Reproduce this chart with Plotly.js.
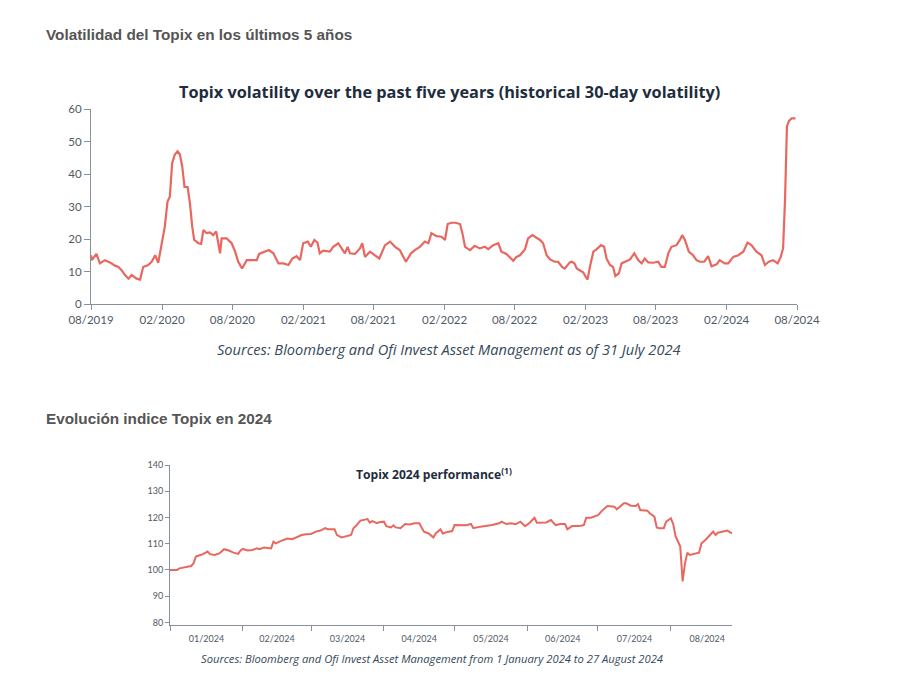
<!DOCTYPE html>
<html>
<head>
<meta charset="utf-8">
<script src="https://cdn.plot.ly/plotly-3.0.1.min.js"></script>
<style>
  html, body { margin: 0; padding: 0; background: #ffffff; }
  #chart { width: 900px; height: 678px; }
</style>
</head>
<body>
<div id="chart"></div>
<script>
// ---- Chart 1: Topix historical 30-day volatility ----
const volDates = [
  "2019-08-01","2019-08-03","2019-08-15","2019-08-24","2019-09-06","2019-09-19","2019-10-02","2019-10-11",
  "2019-10-19","2019-10-28","2019-11-06","2019-11-14","2019-11-27","2019-12-06","2019-12-14","2019-12-27",
  "2020-01-05","2020-01-14","2020-01-22","2020-02-02","2020-02-08","2020-02-15","2020-02-21","2020-02-27",
  "2020-03-05","2020-03-12","2020-03-18","2020-03-24","2020-03-30","2020-04-07","2020-04-13","2020-04-19",
  "2020-04-24","2020-05-05","2020-05-12","2020-05-18","2020-05-26","2020-06-04","2020-06-12","2020-06-20",
  "2020-06-30","2020-07-04","2020-07-17","2020-07-30","2020-08-08","2020-08-16","2020-08-26","2020-09-07",
  "2020-09-20","2020-10-03","2020-10-09","2020-10-24","2020-11-03","2020-11-15","2020-11-28","2020-12-11",
  "2020-12-24","2021-01-03","2021-01-14","2021-01-23","2021-01-31","2021-02-12","2021-02-20","2021-03-01",
  "2021-03-09","2021-03-15","2021-03-24","2021-04-10","2021-04-19","2021-05-02","2021-05-10","2021-05-19",
  "2021-05-26","2021-06-01","2021-06-14","2021-06-27","2021-07-03","2021-07-10","2021-07-23","2021-08-05",
  "2021-08-16","2021-08-31","2021-09-13","2021-09-26","2021-10-08","2021-10-24","2021-11-06","2021-11-16",
  "2021-11-29","2021-12-12","2021-12-21","2021-12-29","2022-01-11","2022-01-24","2022-02-02","2022-02-09",
  "2022-02-19","2022-03-01","2022-03-13","2022-03-19","2022-03-26","2022-04-08","2022-04-20","2022-05-03",
  "2022-05-16","2022-05-25","2022-06-07","2022-06-20","2022-06-28","2022-07-11","2022-07-20","2022-07-29",
  "2022-08-06","2022-08-15","2022-08-28","2022-09-05","2022-09-16","2022-09-24","2022-10-06","2022-10-14",
  "2022-10-23","2022-11-01","2022-11-13","2022-11-22","2022-12-02","2022-12-09","2022-12-16","2022-12-22",
  "2022-12-27","2023-01-03","2023-01-09","2023-01-17","2023-01-26","2023-02-01","2023-02-06","2023-02-12",
  "2023-02-21","2023-03-01","2023-03-13","2023-03-21","2023-03-27","2023-04-05","2023-04-13","2023-04-19",
  "2023-04-28","2023-05-05","2023-05-14","2023-05-27","2023-06-07","2023-06-17","2023-06-26","2023-07-04",
  "2023-07-13","2023-07-26","2023-08-08","2023-08-16","2023-08-25","2023-09-03","2023-09-11","2023-09-24",
  "2023-10-03","2023-10-09","2023-10-16","2023-10-26","2023-11-06","2023-11-15","2023-11-24","2023-12-05",
  "2023-12-15","2023-12-24","2024-01-06","2024-01-14","2024-01-27","2024-02-05","2024-02-18","2024-03-02",
  "2024-03-15","2024-03-26","2024-04-05","2024-04-18","2024-05-01","2024-05-10","2024-05-20","2024-05-31",
  "2024-06-12","2024-06-20","2024-06-26","2024-07-01","2024-07-06","2024-07-11","2024-07-18","2024-07-28"
];
const volValues = [
  15, 13.5, 15.4, 12.5, 13.5, 12.8, 11.8, 11.4,
  10.4, 8.9, 7.8, 8.9, 7.8, 7.5, 11.4, 12,
  13, 15, 12.7, 20.2, 23.8, 31.5, 33, 43.4,
  46, 47, 46, 42.4, 36, 36, 31, 23.8,
  19.7, 18.7, 18.5, 22.8, 21.8, 22, 21.2, 22.3,
  15.6, 20.2, 20.2, 18.7, 16.1, 13, 10.9, 13.5,
  13.5, 13.5, 15.4, 16.1, 16.6, 15.6, 12.5, 12.5,
  12, 14, 14.7, 13.5, 18.7, 19.2, 17.6, 19.7,
  18.9, 15.6, 16.4, 16.1, 17.6, 18.7, 17.1, 15.6,
  17.6, 15.6, 15.4, 17.1, 18.7, 14.5, 16.1, 15,
  14, 18.1, 19.2, 17.6, 16.6, 13, 15.6, 16.6,
  17.6, 19.2, 18.7, 21.8, 20.9, 20.7, 19.7, 24.6,
  25, 25, 24.6, 21.8, 17.6, 16.6, 17.9, 17.1,
  17.6, 16.9, 18.1, 18.7, 16.1, 15.4, 14.5, 13.3,
  14.5, 15, 16.8, 20.2, 21.2, 20.7, 19.7, 18.7,
  15, 13.7, 13, 13, 11.4, 10.9, 12, 12.8,
  13, 12.5, 10.9, 10.4, 9.7, 8.4, 7.5, 11.4,
  16.1, 16.8, 18.1, 17.6, 14, 12, 11.4, 8.6,
  9.4, 12.5, 13, 13.7, 15.6, 13.5, 12.5, 14,
  12.8, 12.7, 13, 11.4, 11.4, 15.6, 17.6, 18.1,
  19.7, 21.2, 19.7, 16.1, 15, 13.5, 13, 13,
  14.7, 11.6, 12.2, 13.5, 12.5, 12.5, 14.5, 15,
  16.1, 18.9, 18.1, 16.1, 15, 12, 13, 13.5,
  12.5, 14.5, 17.1, 32, 54.7, 56.3, 57.1, 57.1
];

// ---- Chart 2: Topix 2024 performance (base 100) ----
const perfDates = [
  "2024-01-01","2024-01-04","2024-01-05","2024-01-07","2024-01-10","2024-01-11","2024-01-12","2024-01-14",
  "2024-01-15","2024-01-17","2024-01-18","2024-01-20","2024-01-22","2024-01-24","2024-01-26","2024-01-28",
  "2024-01-30","2024-01-31","2024-02-01","2024-02-03","2024-02-05","2024-02-07","2024-02-08","2024-02-10",
  "2024-02-13","2024-02-14","2024-02-15","2024-02-17","2024-02-20","2024-02-22","2024-02-24","2024-02-26",
  "2024-02-28","2024-03-01","2024-03-03","2024-03-05","2024-03-07","2024-03-08","2024-03-11","2024-03-12",
  "2024-03-14","2024-03-16","2024-03-18","2024-03-19","2024-03-20","2024-03-22","2024-03-23","2024-03-25",
  "2024-03-26","2024-03-27","2024-03-29","2024-03-30","2024-04-01","2024-04-02","2024-04-04","2024-04-05",
  "2024-04-06","2024-04-08","2024-04-10","2024-04-12","2024-04-14","2024-04-16","2024-04-18","2024-04-20",
  "2024-04-22","2024-04-23","2024-04-25","2024-04-26","2024-04-28","2024-04-30","2024-05-01","2024-05-03",
  "2024-05-06","2024-05-08","2024-05-09","2024-05-12","2024-05-15","2024-05-17","2024-05-20","2024-05-21",
  "2024-05-23","2024-05-25","2024-05-27","2024-05-29","2024-05-31","2024-06-02","2024-06-04","2024-06-05",
  "2024-06-09","2024-06-11","2024-06-13","2024-06-15","2024-06-17","2024-06-18","2024-06-20","2024-06-23",
  "2024-06-25","2024-06-26","2024-06-28","2024-07-01","2024-07-03","2024-07-05","2024-07-08","2024-07-09",
  "2024-07-12","2024-07-13","2024-07-15","2024-07-17","2024-07-18","2024-07-19","2024-07-22","2024-07-23",
  "2024-07-25","2024-07-26","2024-07-27","2024-07-29","2024-07-30","2024-08-01","2024-08-02","2024-08-03",
  "2024-08-05","2024-08-06","2024-08-07","2024-08-08","2024-08-09","2024-08-11","2024-08-13","2024-08-14",
  "2024-08-16","2024-08-19","2024-08-20","2024-08-21","2024-08-23","2024-08-25","2024-08-27"
];
const perfValues = [
  100, 100, 100.6, 101, 101.5, 102.5, 105.1, 105.7,
  106, 107, 106, 105.7, 106.3, 107.9, 107.4, 106.6,
  106.1, 107.4, 108, 107.4, 107.6, 108.2, 107.9, 108.5,
  108.2, 110.8, 110.1, 111, 112, 111.7, 112.4, 113.3,
  113.6, 113.7, 114.6, 115, 115.9, 115.5, 115.5, 113.3,
  112.4, 112.9, 113.3, 115.9, 116.7, 118.8, 119, 119.4,
  118, 118.6, 117.8, 118.2, 118.4, 116.7, 116.2, 117,
  116.2, 115.9, 117.5, 117.3, 117.8, 117.8, 114.6, 113.9,
  112.4, 113.9, 115.5, 113.9, 114.5, 114.8, 117.1, 117.1,
  117, 117.5, 115.9, 116.5, 116.7, 117.1, 117.8, 118.4,
  117.5, 117.8, 117.4, 118.4, 116.7, 118, 119.9, 118,
  118.1, 119, 117.1, 117.5, 117.5, 115.5, 116.7, 116.7,
  117.1, 119.9, 119.9, 120.9, 122.8, 124.4, 124.1, 123.1,
  125.4, 125.4, 124.5, 124.4, 125.1, 122.8, 122.6, 121.6,
  120.3, 116.2, 115.9, 115.9, 118.4, 119.7, 117.5, 112.9,
  108.9, 95.6, 102.5, 106.6, 105.7, 106.1, 106.6, 110.1,
  111.7, 114.6, 113.3, 114.2, 114.5, 115, 113.9
];

const pageHeading1 = "Volatilidad del Topix en los últimos 5 años";
const pageHeading2 = "Evolución indice Topix en 2024";
const chartTitle1 = "Topix volatility over the past five years (historical 30-day volatility)";
const chartTitle2 = "Topix 2024 performance<sup>(1)</sup>";
const source1 = "Sources: Bloomberg and Ofi Invest Asset Management as of 31 July 2024";
const source2 = "Sources: Bloomberg and Ofi Invest Asset Management from 1 January 2024 to 27 August 2024";

const W = 900, H = 678;
const px = x => x / W;
const py = y => 1 - y / H;

const lineColor = "#E8675F";
const navy = "#1e2d3d";
const tickGray = "#4f5a66";
const chartFont = "Lato, 'Open Sans', sans-serif";
const titleFont = "'Open Sans', Lato, sans-serif";
const pageFont = "'Liberation Sans', Arial, sans-serif";

const traces = [
  { x: volDates, y: volValues, type: "scatter", mode: "lines", xaxis: "x", yaxis: "y",
    line: { color: lineColor, width: 2.2 }, hoverinfo: "skip" },
  { x: perfDates, y: perfValues, type: "scatter", mode: "lines", xaxis: "x2", yaxis: "y2",
    line: { color: lineColor, width: 2 }, hoverinfo: "skip" }
];

const axisCommon = {
  showgrid: false, zeroline: false, showline: true, linecolor: "#8a9099", linewidth: 1,
  ticks: "outside", tickcolor: "#8a9099", fixedrange: true
};

const layout = {
  width: W, height: H,
  margin: { l: 0, r: 0, t: 0, b: 0 },
  paper_bgcolor: "#ffffff", plot_bgcolor: "rgba(0,0,0,0)",
  showlegend: false,
  xaxis: Object.assign({}, axisCommon, {
    type: "date", domain: [px(91), px(797)], anchor: "y",
    range: ["2019-08-01", "2024-08-01"],
    tick0: "2019-08-01", dtick: "M6", tickformat: "%m/%Y", ticklen: 5,
    tickfont: { family: chartFont, size: 11.5, color: tickGray }
  }),
  yaxis: Object.assign({}, axisCommon, {
    domain: [py(304), py(109)], anchor: "x",
    range: [0, 60], dtick: 10, ticklen: 6,
    tickfont: { family: chartFont, size: 11.5, color: tickGray }
  }),
  xaxis2: Object.assign({}, axisCommon, {
    type: "date", domain: [px(170), px(732)], anchor: "y2",
    range: ["2024-01-01", "2024-08-27"],
    tick0: "2024-01-01", dtick: "M1", tickformat: "%m/%Y", ticklabelmode: "period", ticklen: 5,
    tickfont: { family: chartFont, size: 9, color: tickGray }
  }),
  yaxis2: Object.assign({}, axisCommon, {
    domain: [py(625), py(465)], anchor: "x2",
    range: [79, 140], tick0: 80, dtick: 10, ticklen: 4,
    tickfont: { family: chartFont, size: 9, color: tickGray }
  }),
  annotations: [
    { text: "<b>" + pageHeading1 + "</b>", xref: "paper", yref: "paper", x: px(44), y: py(34),
      xanchor: "left", yanchor: "middle", showarrow: false,
      font: { family: pageFont, size: 15.3, color: "#555555" } },
    { text: "<b>" + chartTitle1 + "</b>", xref: "paper", yref: "paper", x: px(449), y: py(92),
      xanchor: "center", yanchor: "middle", showarrow: false,
      font: { family: titleFont, size: 16.3, color: navy } },
    { text: "<i>" + source1 + "</i>", xref: "paper", yref: "paper", x: px(449), y: py(349),
      xanchor: "center", yanchor: "middle", showarrow: false,
      font: { family: titleFont, size: 14.6, color: "#34495a" } },
    { text: "<b>" + pageHeading2 + "</b>", xref: "paper", yref: "paper", x: px(44), y: py(418),
      xanchor: "left", yanchor: "middle", showarrow: false,
      font: { family: pageFont, size: 15.3, color: "#555555" } },
    { text: "<b>" + chartTitle2 + "</b>", xref: "paper", yref: "paper", x: px(434), y: py(474),
      xanchor: "center", yanchor: "middle", showarrow: false,
      font: { family: titleFont, size: 12.1, color: navy } },
    { text: "<i>" + source2 + "</i>", xref: "paper", yref: "paper", x: px(432), y: py(658),
      xanchor: "center", yanchor: "middle", showarrow: false,
      font: { family: titleFont, size: 11.2, color: "#34495a" } }
  ]
};

Plotly.newPlot("chart", traces, layout, { staticPlot: true, displayModeBar: false });
</script>
</body>
</html>
